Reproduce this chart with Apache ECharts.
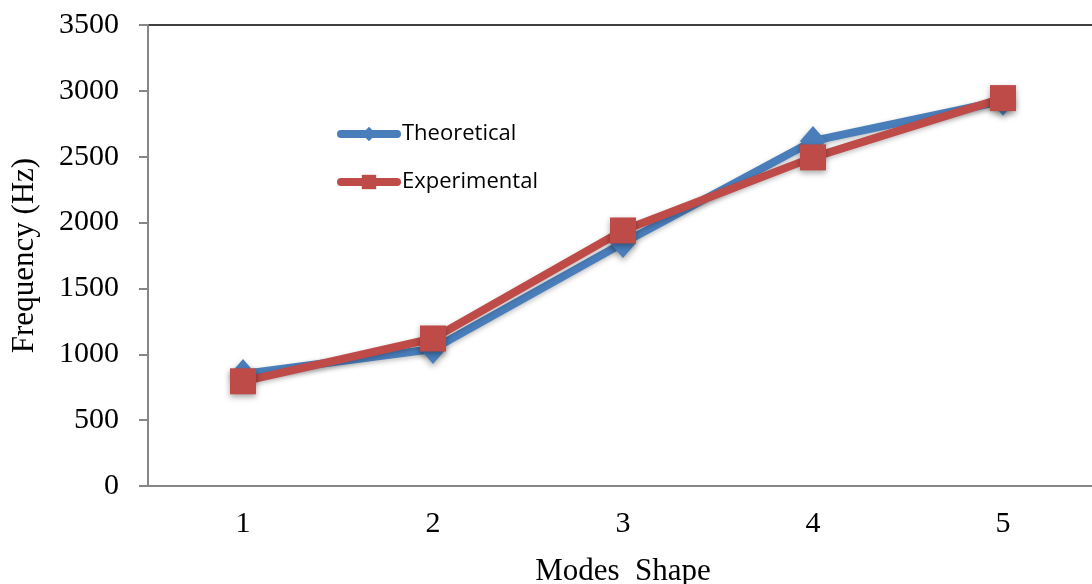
<!DOCTYPE html>
<html>
<head>
<meta charset="utf-8">
<script src="https://cdn.jsdelivr.net/npm/echarts@6/dist/echarts.min.js"></script>
<style>
  html, body { margin: 0; padding: 0; background: #fff; }
  #chart { width: 1092px; height: 584px; }
</style>
</head>
<body>
<div id="chart"></div>
<script>
var modes = ['1', '2', '3', '4', '5']
var theoretical = [850, 1040, 1845, 2620, 2925]
var experimental = [795, 1120, 1940, 2495, 2945]

var chart = echarts.init(document.getElementById('chart'))

chart.setOption({
    backgroundColor: '#fff',
    animation: false,
    grid: {
        left: 148, top: 25, width: 950, height: 461,
        outerBoundsMode: 'none',
        containLabel: false,
        show: true, borderColor: '#000', borderWidth: 1.5
    },
    legend: {
        orient: 'vertical',
        left: 332, top: 118,
        itemWidth: 56, itemHeight: 18,
        itemGap: 26,
        textStyle: { fontFamily: 'Open Sans', fontSize: 22, color: '#000' },
        data: [
            { name: 'Theoretical', lineStyle: { width: 8, cap: 'round' } },
            { name: 'Experimental', lineStyle: { width: 8, cap: 'round' } }
        ]
    },
    xAxis: {
        type: 'category',
        data: modes,
        name: 'Modes  Shape',
        nameLocation: 'middle',
        nameGap: 70,
        nameTextStyle: { fontFamily: 'Liberation Serif', fontSize: 31, color: '#000' },
        axisLine: { lineStyle: { color: '#868686', width: 2 } },
        axisTick: { show: false },
        axisLabel: { fontFamily: 'Liberation Serif', fontSize: 30, color: '#000', margin: 23 }
    },
    yAxis: {
        type: 'value',
        min: 0, max: 3500, interval: 500,
        name: 'Frequency (Hz)',
        nameLocation: 'middle',
        nameGap: 108,
        nameTextStyle: { fontFamily: 'Liberation Serif', fontSize: 31, color: '#000' },
        axisLine: { show: true, lineStyle: { color: '#868686', width: 2 } },
        axisTick: { show: true, length: 9, lineStyle: { color: '#868686', width: 2 } },
        splitLine: { show: false },
        axisLabel: { fontFamily: 'Liberation Serif', fontSize: 30, color: '#000', margin: 29, formatter: function (v) { return String(v) } }
    },
    series: [
        {
            name: 'Theoretical',
            type: 'line',
            data: theoretical,
            symbol: 'diamond',
            symbolSize: [26, 30],
            lineStyle: { color: '#4a7ebb', width: 8, shadowColor: 'rgba(0,0,0,0.25)', shadowBlur: 5, shadowOffsetY: 2 },
            itemStyle: { color: '#4a7ebb', shadowColor: 'rgba(0,0,0,0.35)', shadowBlur: 6, shadowOffsetY: 3 }
        },
        {
            name: 'Experimental',
            type: 'line',
            data: experimental,
            symbol: 'rect',
            symbolSize: 26,
            lineStyle: { color: '#be4b48', width: 8, shadowColor: 'rgba(0,0,0,0.25)', shadowBlur: 5, shadowOffsetY: 2 },
            itemStyle: { color: '#be4b48', shadowColor: 'rgba(0,0,0,0.35)', shadowBlur: 6, shadowOffsetY: 3 }
        }
    ]
})
</script>
</body>
</html>
